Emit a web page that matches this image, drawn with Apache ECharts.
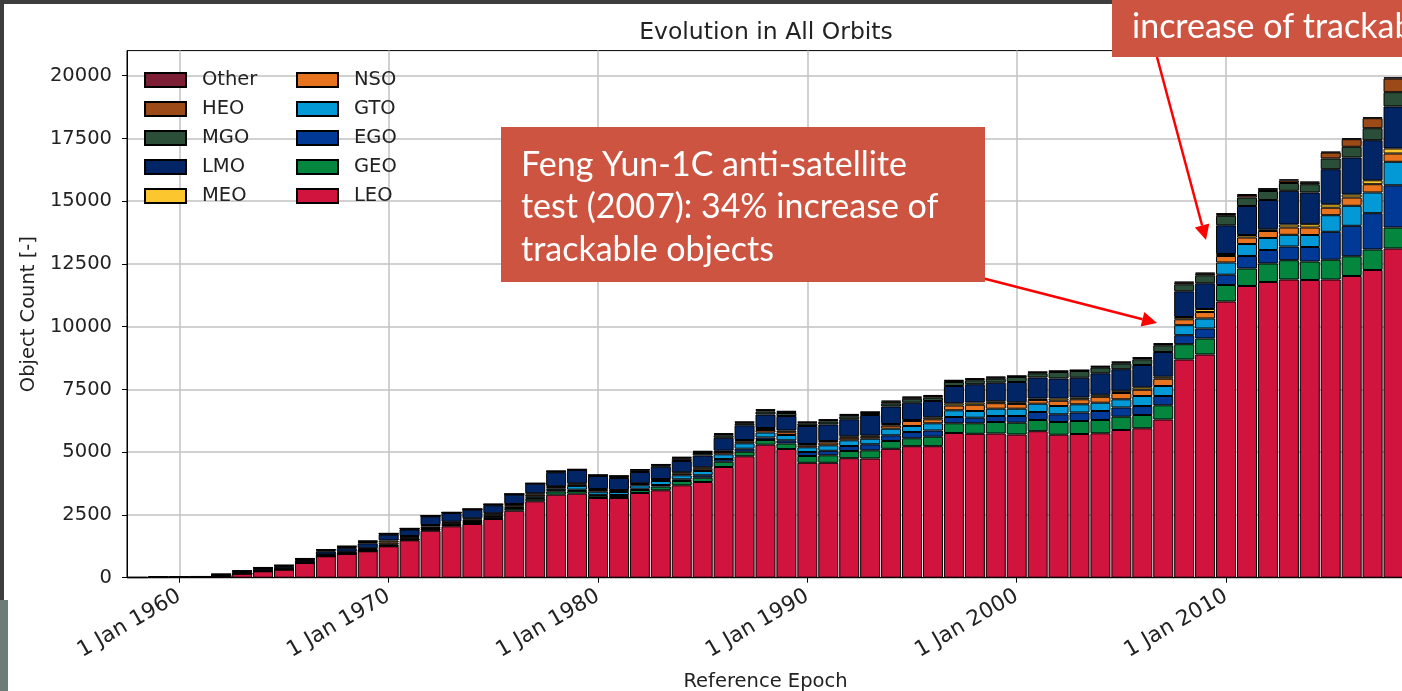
<!DOCTYPE html>
<html>
<head>
<meta charset="utf-8">
<title>Evolution in All Orbits</title>
<script src="https://cdn.jsdelivr.net/npm/echarts/dist/echarts.min.js"></script>
<style>
    html, body { margin: 0; padding: 0; background: #fff; }
    #chart { width: 1402px; height: 691px; }
</style>
</head>
<body>
<div id="chart"></div>
<script>
// one bar per reference epoch (1 Jan of each year)
var years = [1958, 1959, 1960, 1961, 1962, 1963, 1964, 1965, 1966, 1967, 1968, 1969,
    1970, 1971, 1972, 1973, 1974, 1975, 1976, 1977, 1978, 1979,
    1980, 1981, 1982, 1983, 1984, 1985, 1986, 1987, 1988, 1989,
    1990, 1991, 1992, 1993, 1994, 1995, 1996, 1997, 1998, 1999,
    2000, 2001, 2002, 2003, 2004, 2005, 2006, 2007, 2008, 2009,
    2010, 2011, 2012, 2013, 2014, 2015, 2016, 2017, 2018];

var leo = [8, 14, 20, 30, 60, 159, 255, 319, 586, 853, 944, 1052,
    1251, 1490, 1872, 2048, 2139, 2339, 2669, 3044, 3307, 3347,
    3175, 3175, 3375, 3482, 3681, 3813, 4410, 4837, 5299, 5128,
    4578, 4578, 4761, 4749, 5135, 5239, 5239, 5765, 5733, 5745,
    5705, 5837, 5697, 5725, 5753, 5884, 5952, 6303, 8693, 8892,
    11004, 11622, 11781, 11880, 11861, 11880, 12020, 12259, 13115];
var geo = [0, 0, 0, 0, 0, 1, 2, 3, 5, 8, 10, 15,
    20, 25, 40, 45, 55, 60, 80, 100, 130, 110,
    90, 80, 119, 151, 172, 171, 211, 183, 187, 219,
    271, 298, 287, 326, 311, 315, 378, 386, 418, 458,
    470, 446, 506, 518, 530, 530, 530, 565, 610, 638,
    657, 697, 737, 769, 736, 789, 785, 817, 837];
var ego = [0, 0, 0, 0, 0, 1, 2, 3, 4, 6, 8, 10,
    15, 15, 20, 20, 22, 25, 30, 40, 50, 50,
    36, 40, 52, 60, 67, 96, 108, 120, 100, 127,
    159, 180, 199, 240, 227, 251, 247, 251, 223, 239,
    267, 318, 307, 339, 358, 367, 358, 371, 358, 398,
    411, 498, 538, 546, 578, 1112, 1215, 1446, 1681];
var gto = [0, 0, 0, 0, 2, 4, 6, 8, 10, 15, 20, 25,
    40, 35, 45, 40, 45, 45, 50, 60, 70, 150,
    125, 119, 135, 160, 160, 171, 187, 215, 199, 211,
    187, 219, 227, 222, 263, 239, 287, 267, 267, 291,
    291, 331, 330, 326, 331, 327, 399, 398, 399, 399,
    486, 478, 478, 466, 478, 661, 797, 825, 937];
var nso = [0, 0, 0, 1, 5, 8, 10, 12, 15, 25, 30, 40,
    80, 50, 65, 45, 60, 55, 60, 70, 50, 60,
    65, 50, 50, 50, 70, 90, 90, 80, 100, 110,
    80, 110, 100, 80, 120, 200, 160, 190, 250, 220,
    190, 150, 210, 200, 235, 250, 250, 291, 235, 258,
    259, 259, 279, 291, 299, 299, 330, 330, 330];
var meo = [0, 0, 0, 1, 5, 6, 8, 10, 12, 20, 25, 30,
    76, 46, 57, 33, 45, 42, 47, 49, 37, 40,
    43, 30, 30, 29, 49, 57, 54, 51, 79, 70,
    52, 61, 59, 47, 67, 39, 79, 89, 89, 75,
    65, 57, 89, 71, 80, 88, 96, 80, 91, 120,
    80, 99, 67, 120, 132, 135, 120, 156, 200];
var lmo = [2, 4, 6, 10, 40, 50, 70, 80, 75, 120, 140, 198,
    239, 259, 347, 347, 343, 318, 379, 382, 557, 534,
    518, 478, 450, 490, 450, 470, 514, 586, 538, 577,
    717, 658, 678, 817, 698, 689, 650, 689, 729, 741,
    809, 837, 797, 789, 856, 861, 889, 984, 1024, 1024,
    1142, 1156, 1168, 1342, 1263, 1399, 1474, 1597, 1673];
var mgo = [0, 0, 0, 2, 15, 25, 30, 35, 30, 40, 40, 50,
    25, 25, 12, 15, 15, 25, 10, 8, 25, 15,
    25, 50, 60, 55, 90, 100, 100, 80, 120, 120,
    100, 120, 120, 80, 127, 159, 131, 160, 155, 159,
    199, 167, 259, 267, 231, 227, 227, 267, 279, 319,
    379, 338, 358, 311, 330, 426, 426, 478, 570];
var heo = [0, 0, 2, 3, 12, 15, 18, 22, 22, 28, 30, 32,
    15, 15, 8, 8, 8, 17, 6, 5, 17, 8,
    10, 27, 30, 27, 45, 52, 50, 40, 55, 50,
    45, 55, 55, 30, 70, 50, 70, 50, 50, 50,
    30, 40, 30, 25, 36, 45, 50, 50, 70, 70,
    70, 100, 75, 100, 70, 239, 303, 399, 545];
var other = [0, 2, 2, 3, 8, 10, 13, 14, 14, 16, 16, 22,
    8, 8, 4, 5, 5, 10, 4, 3, 10, 5,
    5, 15, 18, 14, 25, 28, 29, 23, 32, 29,
    26, 32, 36, 22, 34, 30, 38, 30, 30, 30,
    22, 24, 22, 15, 25, 27, 30, 29, 34, 34,
    30, 40, 32, 47, 30, 32, 35, 35, 50];

// stacking order, bottom to top
var orbitNames = ['LEO', 'GEO', 'EGO', 'GTO', 'NSO', 'MEO', 'LMO', 'MGO', 'HEO', 'Other'];
var orbitValues = [leo, geo, ego, gto, nso, meo, lmo, mgo, heo, other];
var orbitColors = ['#d0143e', '#04863f', '#003a96', '#0399d7', '#e8741f',
    '#fcc62e', '#022566', '#2b4e39', '#9b4a18', '#7c1f35'];

var decadeTicks = [1960, 1970, 1980, 1990, 2000, 2010];
var countTicks = [0, 2500, 5000, 7500, 10000, 12500, 15000, 17500, 20000];

var noteLines = ['Feng Yun-1C anti-satellite', 'test (2007): 34% increase of', 'trackable objects'];
var topNote = 'increase of trackable objects';

var chartFont = 'DejaVu Sans';
var noteColor = '#cd5440';

var myChart = echarts.init(document.getElementById('chart'));

// bars sit on a hidden category axis (one band per year) that spans the
// same pixels as the visible time axis, so stacking works natively
var series = orbitNames.map(function (name, k) {
    return {
        name: name,
        type: 'bar',
        stack: 'orbits',
        xAxisIndex: 1,
        barWidth: 20,
        data: orbitValues[k],
        itemStyle: { color: orbitColors[k], borderColor: '#000', borderWidth: 1 },
        emphasis: { disabled: true }
    };
});

// red arrow: line plus a filled head at (x2, y2)
function arrow(x1, y1, x2, y2) {
    var dx = x2 - x1, dy = y2 - y1;
    var len = Math.sqrt(dx * dx + dy * dy);
    var ux = dx / len, uy = dy / len;
    var bx = x2 - ux * 15, by = y2 - uy * 15;
    return [
        { type: 'line', z: 100, shape: { x1: x1, y1: y1, x2: bx, y2: by },
          style: { stroke: '#ff0000', lineWidth: 2.5 } },
        { type: 'polygon', z: 100,
          shape: { points: [[x2, y2], [bx - uy * 7.5, by + ux * 7.5], [bx + uy * 7.5, by - ux * 7.5]] },
          style: { fill: '#ff0000' } }
    ];
}

var graphics = [
    { type: 'rect', z: 100, shape: { x: 0, y: 0, width: 1112, height: 4 }, style: { fill: '#3d3d3d' } },
    { type: 'rect', z: 100, shape: { x: 0, y: 0, width: 4, height: 600 }, style: { fill: '#3d3d3d' } },
    { type: 'rect', z: 100, shape: { x: 0, y: 600, width: 8, height: 91 }, style: { fill: '#6c7c77' } }
];
graphics = graphics.concat(arrow(838, 241, 1157, 323));
graphics = graphics.concat(arrow(1157, 57, 1206, 240));
graphics.push({ type: 'rect', z: 101, shape: { x: 501, y: 127, width: 484, height: 155 }, style: { fill: noteColor } });
noteLines.forEach(function (t, i) {
    graphics.push({ type: 'text', z: 102, x: 521, y: 165 + i * 42.5,
        style: { text: t, fill: '#fff', font: '34px Lato', textVerticalAlign: 'middle' } });
});
graphics.push({ type: 'rect', z: 101, shape: { x: 1112, y: 0, width: 300, height: 57 }, style: { fill: noteColor } });
graphics.push({ type: 'text', z: 102, x: 1132, y: 27,
    style: { text: topNote, fill: '#fff', font: '34px Lato', textVerticalAlign: 'middle' } });

var legendBase = {
    orient: 'vertical',
    top: 70,
    padding: 0,
    itemWidth: 41,
    itemHeight: 14,
    itemGap: 9,
    icon: 'rect',
    selectedMode: false,
    textStyle: { fontFamily: chartFont, fontSize: 19.5, color: '#222', padding: [0, 0, 0, 11] }
};

var option = {
    animation: false,
    backgroundColor: '#fff',
    title: {
        text: 'Evolution in All Orbits',
        left: 766,
        top: 21,
        padding: 0,
        textAlign: 'center',
        textStyle: { fontFamily: chartFont, fontSize: 23.5, fontWeight: 'normal', color: '#222' }
    },
    legend: [
        Object.assign({}, legendBase, { left: 144, data: ['Other', 'HEO', 'MGO', 'LMO', 'MEO'] }),
        Object.assign({}, legendBase, { left: 296, data: ['NSO', 'GTO', 'EGO', 'GEO', 'LEO'] })
    ],
    grid: {
        left: 127,
        top: 50.6,
        width: 1277,
        height: 527.1,
        containLabel: false,
        outerBoundsMode: 'none',
        show: true,
        borderColor: '#000',
        borderWidth: 1
    },
    xAxis: [{
        type: 'value',
        min: 1957.5,
        max: 2018.5,
        name: 'Reference Epoch',
        nameLocation: 'middle',
        nameGap: 94,
        nameTextStyle: { fontFamily: chartFont, fontSize: 19.5, color: '#222' },
        axisLine: { lineStyle: { color: '#000', width: 1 } },
        axisTick: { customValues: decadeTicks, length: 5, lineStyle: { color: '#000' } },
        axisLabel: {
            customValues: decadeTicks,
            rotate: 30,
            margin: 17,
            fontFamily: chartFont,
            fontSize: 21.5,
            color: '#222',
            formatter: function (v) { return '1 Jan ' + v; }
        },
        splitLine: { show: true, lineStyle: { color: '#c2c2c2', width: 1.5 } }
    }, {
        type: 'category',
        data: years,
        boundaryGap: true,
        show: false
    }],
    yAxis: {
        type: 'value',
        min: 0,
        max: 21000,
        name: 'Object Count [-]',
        nameLocation: 'middle',
        nameGap: 84,
        nameTextStyle: { fontFamily: chartFont, fontSize: 19.5, color: '#222' },
        axisLine: { show: true, lineStyle: { color: '#000', width: 1 } },
        axisTick: { show: true, customValues: countTicks, length: 5, lineStyle: { color: '#000' } },
        axisLabel: {
            customValues: countTicks,
            margin: 15,
            fontFamily: chartFont,
            fontSize: 19.5,
            color: '#222',
            formatter: function (v) { return String(v); }
        },
        splitLine: { show: true, lineStyle: { color: '#c2c2c2', width: 1.5 } }
    },
    graphic: graphics,
    series: series
};

myChart.setOption(option);
</script>
</body>
</html>
